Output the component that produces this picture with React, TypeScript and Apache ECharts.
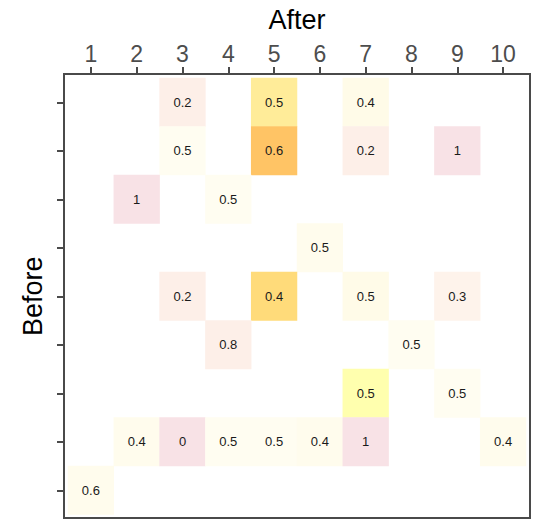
import React, { useEffect, useRef } from "react";
import * as echarts from "echarts";

const afterLabels = ["1", "2", "3", "4", "5", "6", "7", "8", "9", "10"];
const beforeLabels = ["1", "2", "3", "4", "5", "6", "7", "8", "9"];

// one entry per filled cell
const cellBefore = [1, 1, 1, 2, 2, 2, 2, 3, 3, 4, 5, 5, 5, 5, 6, 6, 7, 7, 8, 8, 8, 8, 8, 8, 8, 9];
const cellAfter = [3, 5, 7, 3, 5, 7, 9, 2, 4, 6, 3, 5, 7, 9, 4, 8, 7, 9, 2, 3, 4, 5, 6, 7, 10, 1];
const cellShare = [0.2, 0.5, 0.4, 0.5, 0.6, 0.2, 1, 1, 0.5, 0.5, 0.2, 0.4, 0.5, 0.3, 0.8, 0.5, 0.5, 0.5, 0.4, 0, 0.5, 0.5, 0.4, 1, 0.4, 0.6];
const cellShade = [1, 5, 3, 2, 7, 1, 0, 0, 2, 2.5, 1, 6, 3, 1.3, 1, 2, 4, 2, 2.5, 0, 2, 2, 2.5, 0, 2.5, 2.5];

const shadeColors = ["#F8E2E6", "#FDEFE8", "#FFFDF1", "#FFFBE8", "#FFFFAE", "#FFEC99", "#FFDB7A", "#FFC465"];

export default function App() {
  const ref = useRef<HTMLDivElement>(null);
  useEffect(() => {
    if (!ref.current) return;
    const chart = echarts.init(ref.current, null, { renderer: "svg" });
    const data = cellShare.map((s, i) => [cellAfter[i] - 1, cellBefore[i] - 1, s, cellShade[i]]);
    const font = "Liberation Sans, Arial, sans-serif";
    chart.setOption({
      animation: false,
      backgroundColor: "#ffffff",
      grid: { left: 68, width: 458, top: 78, height: 436.5, containLabel: false, outerBoundsMode: "none" },
      xAxis: {
        type: "category",
        data: afterLabels,
        position: "top",
        offset: 4,
        name: "After",
        nameLocation: "middle",
        nameGap: 41,
        nameTextStyle: { fontSize: 27, color: "#000", fontFamily: font },
        axisLine: { show: false },
        axisTick: { show: true, alignWithLabel: true, length: 7, lineStyle: { color: "#4a4a4a", width: 2 } },
        axisLabel: { fontSize: 23, color: "#4d4d4d", margin: 9, fontFamily: font },
        splitLine: { show: false },
      },
      yAxis: {
        type: "category",
        data: beforeLabels,
        inverse: true,
        offset: 4,
        name: "Before",
        nameLocation: "middle",
        nameGap: 18,
        nameRotate: 90,
        nameTextStyle: { fontSize: 27, color: "#000", fontFamily: font },
        axisLine: { show: false },
        axisTick: { show: true, alignWithLabel: true, length: 7, lineStyle: { color: "#4a4a4a", width: 2 } },
        axisLabel: { show: false },
        splitLine: { show: false },
      },
      visualMap: {
        show: false,
        type: "continuous",
        min: 0,
        max: 7,
        dimension: 3,
        seriesIndex: 0,
        inRange: { color: shadeColors },
      },
      graphic: [
        {
          type: "rect",
          shape: { x: 64, y: 74, width: 466, height: 444 },
          style: { fill: "none", stroke: "#4a4a4a", lineWidth: 2 },
          z: 100,
          silent: true,
        },
      ],
      series: [
        {
          type: "heatmap",
          data,
          label: {
            show: true,
            formatter: (p: any) => String(p.value[2]),
            fontSize: 13,
            color: "#1a1a1a",
            fontFamily: font,
          },
          itemStyle: { borderWidth: 0 },
          emphasis: { disabled: true },
        },
      ],
    });
    return () => chart.dispose();
  }, []);
  return <div ref={ref} style={{ width: 548, height: 520, position: "absolute", left: 0, top: 0 }} />;
}
